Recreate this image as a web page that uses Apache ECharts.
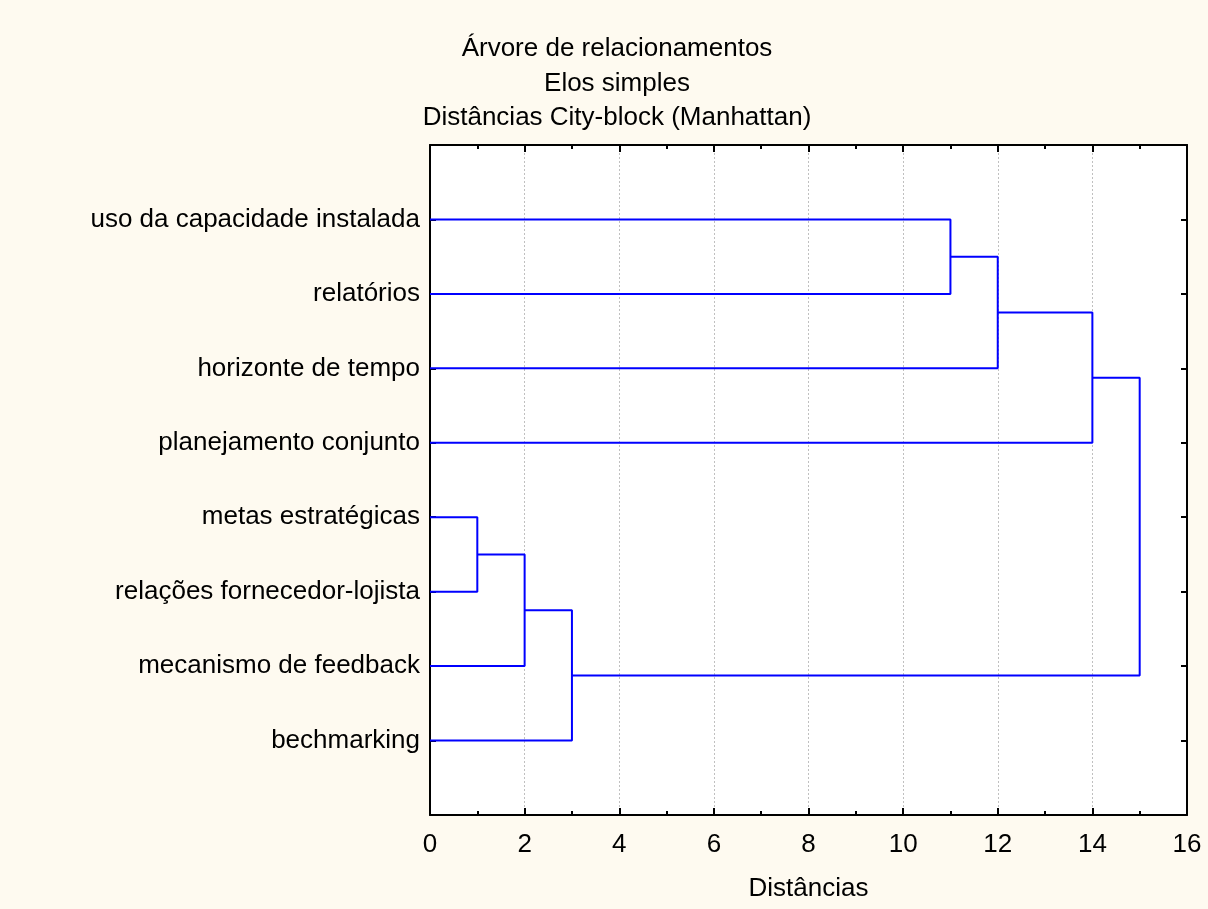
<!DOCTYPE html>
<html><head><meta charset="utf-8">
<script src="https://cdn.jsdelivr.net/npm/echarts@6/dist/echarts.min.js"></script>
<style>html,body{margin:0;padding:0;background:#FEFAF0;}#c{width:1208px;height:909px;}</style>
</head><body><div id="c"></div>
<script>
// Leaves, top to bottom
var leaves = ['uso da capacidade instalada','relatórios','horizonte de tempo','planejamento conjunto','metas estratégicas','relações fornecedor-lojista','mecanismo de feedback','bechmarking'];
// Merges: [left node, right node, distance]; nodes 0..7 are leaves, 8.. are merges in order
var merges = [
  [0, 1, 11],   // node 8
  [8, 2, 12],   // node 9
  [9, 3, 14],   // node 10
  [4, 5, 1],    // node 11
  [11, 6, 2],   // node 12
  [12, 7, 3],   // node 13
  [10, 13, 15]  // node 14
];
var xTicks = [0,2,4,6,8,10,12,14,16];

var pos = [], hgt = [];
leaves.forEach(function(n,i){ pos.push(i+1); hgt.push(0); });
var series = [];
merges.forEach(function(m){
  var a=m[0], b=m[1], h=m[2];
  series.push({
    type:'line', symbol:'none', silent:true, animation:false,
    lineStyle:{color:'#0000FF', width:2},
    data:[[hgt[a],pos[a]],[h,pos[a]],[h,pos[b]],[hgt[b],pos[b]]]
  });
  pos.push((pos[a]+pos[b])/2); hgt.push(h);
});

var font = 'Liberation Sans, Arial, sans-serif';
var fs = 26;
var chart = echarts.init(document.getElementById('c'));
var xBase = {
  type:'value', min:0, max:16, interval:2,
  axisLine:{show:true, onZero:false, lineStyle:{color:'#000', width:2}},
  axisTick:{show:true, inside:true, length:7, lineStyle:{color:'#000', width:2}},
  minorTick:{show:true, splitNumber:2, length:4, lineStyle:{color:'#000', width:2}},
  splitLine:{show:false}
};
var yBase = {
  type:'value', min:0, max:9, interval:1, inverse:true,
  axisLine:{show:true, onZero:false, lineStyle:{color:'#000', width:2}},
  axisTick:{show:true, inside:true, length:6, lineStyle:{color:'#000', width:2}},
  splitLine:{show:false}
};
chart.setOption({
  backgroundColor:'#FEFAF0',
  animation:false,
  title:{
    text:'Árvore de relacionamentos\nElos simples\nDistâncias City-block (Manhattan)',
    left:612, top:27, textAlign:'center',
    textStyle:{fontFamily:font, fontSize:fs, fontWeight:'normal', color:'#000', lineHeight:34.5}
  },
  grid:{left:430, right:21, top:145, bottom:94, show:true, backgroundColor:'#fff', borderWidth:0},
  xAxis:[
    Object.assign({}, xBase, {
      position:'bottom',
      name:'Distâncias', nameLocation:'middle', nameGap:61,
      nameTextStyle:{fontFamily:font, fontSize:fs, color:'#000'},
      axisLabel:{fontFamily:font, fontSize:fs, color:'#000', margin:17,
        formatter:function(v){ return xTicks.indexOf(v)>=0 ? String(v) : ''; }},
      splitLine:{show:true, lineStyle:{color:'#c0c0c0', width:1, type:[2,2]}}
    }),
    Object.assign({}, xBase, {position:'top', axisLabel:{show:false}})
  ],
  yAxis:[
    Object.assign({}, yBase, {
      position:'left',
      axisLabel:{fontFamily:font, fontSize:fs, color:'#000', margin:10,
        formatter:function(v){ return (v>=1 && v<=leaves.length) ? leaves[v-1] : ''; }}
    }),
    Object.assign({}, yBase, {position:'right', axisLabel:{show:false}})
  ],
  series: series
});
</script></body></html>
